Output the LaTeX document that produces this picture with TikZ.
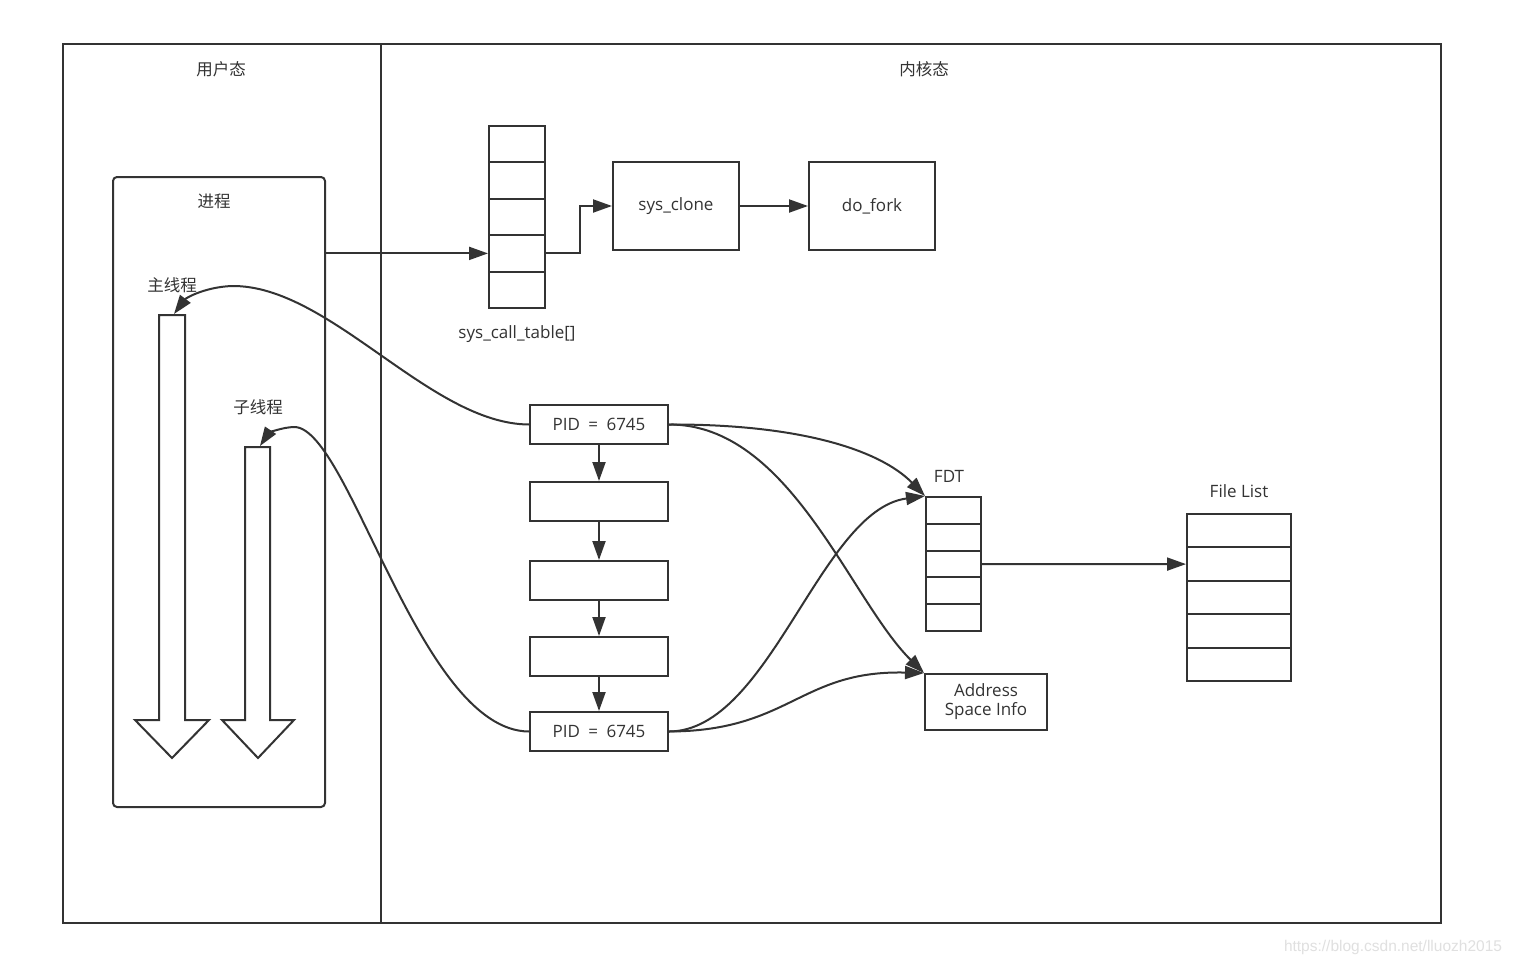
\documentclass[tikz,border=0pt]{standalone}
\usepackage{fontspec}
\setmainfont{Open Sans}
\newfontfamily\cjk{Noto Sans CJK SC}
\newfontfamily\wmfont{Liberation Sans}
\usetikzlibrary{arrows.meta}
\definecolor{ink}{HTML}{333333}
\newcommand{\pidtext}{PID\hspace{4pt} = \hspace{4pt}6745}
\begin{document}
\begin{tikzpicture}[x=1pt,y=-1pt,
  every node/.style={text=ink},
  box/.style={draw=ink,line width=2pt,inner sep=0pt,anchor=center,font=\fontsize{17}{20}\selectfont},
  lbl/.style={inner sep=0pt,anchor=center,font=\fontsize{17}{20}\selectfont},
  clbl/.style={inner sep=0pt,anchor=center,font=\cjk\fontsize{16.5}{19}\selectfont},
  conn/.style={draw=ink,line width=2pt},
  arr/.style={conn,-{Triangle[length=19pt,width=13pt]}},
  sctcell/.style={box,minimum width=56pt,minimum height=36.4pt},
  pidbox/.style={box,minimum width=138pt,minimum height=39pt},
  fdtcell/.style={box,minimum width=55pt,minimum height=26.8pt},
  flcell/.style={box,minimum width=104pt,minimum height=33.4pt},
  bigbox/.style={box,minimum width=126pt,minimum height=88pt}]
\useasboundingbox (0,0) rectangle (1514,966);
\fill[white] (0,0) rectangle (1514,966);
% frame
\draw[conn] (63,44) rectangle (1441,923);
\draw[conn] (381,44) -- (381,923);
\node[clbl] (userlbl) at (221,69) {用户态};
\node[clbl] (kernlbl) at (924,69) {内核态};
% process box
\node[box,rounded corners=4pt,minimum width=212pt,minimum height=630pt] (proc) at (219,492) {};
\node[clbl] (proclbl) at (214,201) {进程};
\node[clbl] (mainlbl) at (172,285) {主线程};
\node[clbl] (childlbl) at (258,407) {子线程};
% thread arrows
\draw[conn,line join=miter] (159,315) -- (185,315) -- (185,720) -- (209,720) -- (172,758) -- (135,720) -- (159,720) -- cycle;
\draw[conn,line join=miter] (245,447) -- (270,447) -- (270,720) -- (294,720) -- (258,758) -- (222,720) -- (245,720) -- cycle;
\coordinate (maintop) at (174,314);
\coordinate (childtop) at (260,446);
% sys_call_table
\node[sctcell] (sct1) at (517,144.2) {};
\node[sctcell] (sct2) at (517,180.6) {};
\node[sctcell] (sct3) at (517,217.0) {};
\node[sctcell] (sct4) at (517,253.4) {};
\node[sctcell] (sct5) at (517,289.8) {};
\node[lbl] (sctlbl) at (517,334) {sys\_call\_table[]};
\node[bigbox] (sysclone) at (676,206) {\raisebox{-2pt}{sys\_clone}};
\node[bigbox] (dofork) at (872,206) {\raisebox{-2pt}{do\_fork}};
\draw[arr] (proc.east |- sct4.west) -- (sct4.west);
\draw[arr] (sct4.east) -- ++(34,0) |- (sysclone.west);
\draw[arr] (sysclone.east) -- (dofork.west);
% pid chain
\node[pidbox] (pid1) at (599,424.5) {\pidtext};
\node[pidbox] (b2) at (599,501.5) {};
\node[pidbox] (b3) at (599,580.5) {};
\node[pidbox] (b4) at (599,656.5) {};
\node[pidbox] (pid5) at (599,731.5) {\pidtext};
\draw[arr] (pid1.south) -- (b2.north);
\draw[arr] (b2.south) -- (b3.north);
\draw[arr] (b3.south) -- (b4.north);
\draw[arr] (b4.south) -- (pid5.north);
% FDT
\node[fdtcell] (fdt1) at (953.5,510.4) {};
\node[fdtcell] (fdt2) at (953.5,537.2) {};
\node[fdtcell] (fdt3) at (953.5,564.0) {};
\node[fdtcell] (fdt4) at (953.5,590.8) {};
\node[fdtcell] (fdt5) at (953.5,617.6) {};
\node[lbl] (fdtlbl) at (949,476) {FDT};
% Address space
\node[box,minimum width=122pt,minimum height=56pt,align=center] (addr) at (986,702) {\raisebox{-2pt}{\begin{tabular}{@{}c@{}}Address\\[-1pt]Space Info\end{tabular}}};
% File list
\node[flcell] (fl1) at (1239,530.7) {};
\node[flcell] (fl2) at (1239,564.1) {};
\node[flcell] (fl3) at (1239,597.5) {};
\node[flcell] (fl4) at (1239,630.9) {};
\node[flcell] (fl5) at (1239,664.3) {};
\node[lbl] (fllbl) at (1239,491) {File List};
\draw[arr] (fdt3.east) -- (fl2.west);
% curves to threads
\draw[arr] (pid1.west) .. controls (430,424) and (330,285) .. (232,286) .. controls (205,287) and (186,298) .. (maintop);
\draw[arr] (pid5.west) .. controls (420,731) and (350,430) .. (295,427) .. controls (281,427) and (268,434) .. (childtop);
% curves to FDT / address
\draw[arr] (pid1.east) .. controls (800,424) and (880,450) .. (fdt1.north west);
\draw[arr] (pid1.east) .. controls (790,424) and (850,600) .. (addr.north west);
\draw[arr] (pid5.east) .. controls (770,731) and (820,510) .. (fdt1.north west);
\draw[arr] (pid5.east) .. controls (790,731) and (800,670) .. (addr.north west);
% watermark
\node[inner sep=0pt,anchor=center,text=black!12,font=\wmfont\fontsize{15.5}{18}\selectfont] (wm) at (1393,947) {https://blog.csdn.net/lluozh2015};
\end{tikzpicture}
\end{document}
